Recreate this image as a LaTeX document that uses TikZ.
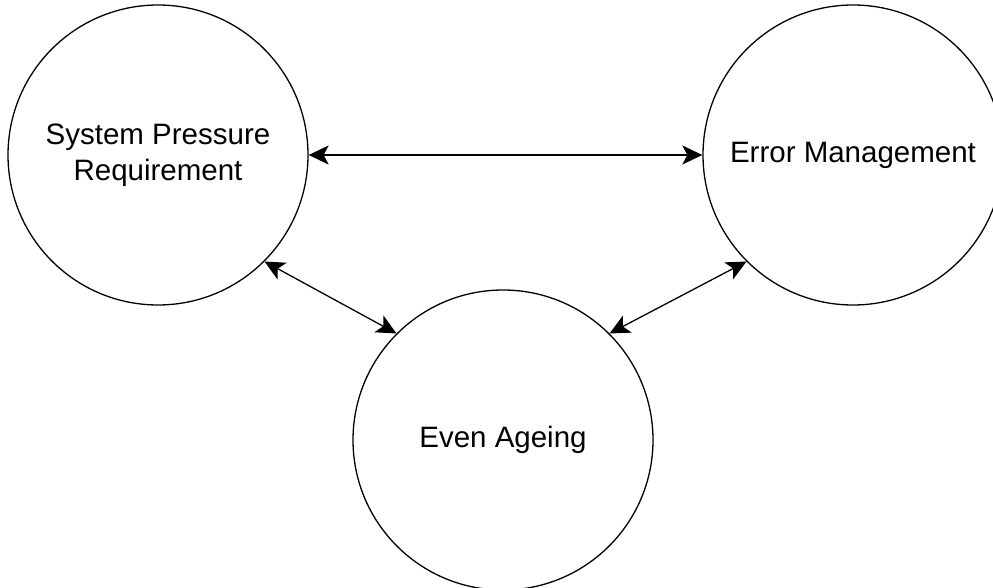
\documentclass[tikz,border=0pt]{standalone}
\usepackage{fontspec}
\setmainfont{Liberation Sans}
\usetikzlibrary{arrows.meta}
\begin{document}
\begin{tikzpicture}[x=1pt,y=-1pt,
  bubble/.style={draw=black,circle,line width=1.3pt,minimum size=300pt,inner sep=0pt,
    align=center,font=\fontsize{29.5}{36}\selectfont},
  link/.style={line width=1.3pt,{Stealth[length=20pt,width=19pt,inset=5pt]}-{Stealth[length=20pt,width=19pt,inset=5pt]}}]
\useasboundingbox (0,0) rectangle (993,588);
\clip (0,0) rectangle (993,588);
\fill[white] (0,0) rectangle (993,588);
\node[bubble] (sp) at (158,155) {System Pressure\\Requirement};
\node[bubble] (em) at (853,155) {Error Management};
\node[bubble] (ea) at (503,440) {Even Ageing};
\draw[link] (sp.0) -- (em.180);
\draw[link] (sp.-45) -- (ea.135);
\draw[link] (ea.45) -- (em.225);
\end{tikzpicture}
\end{document}
